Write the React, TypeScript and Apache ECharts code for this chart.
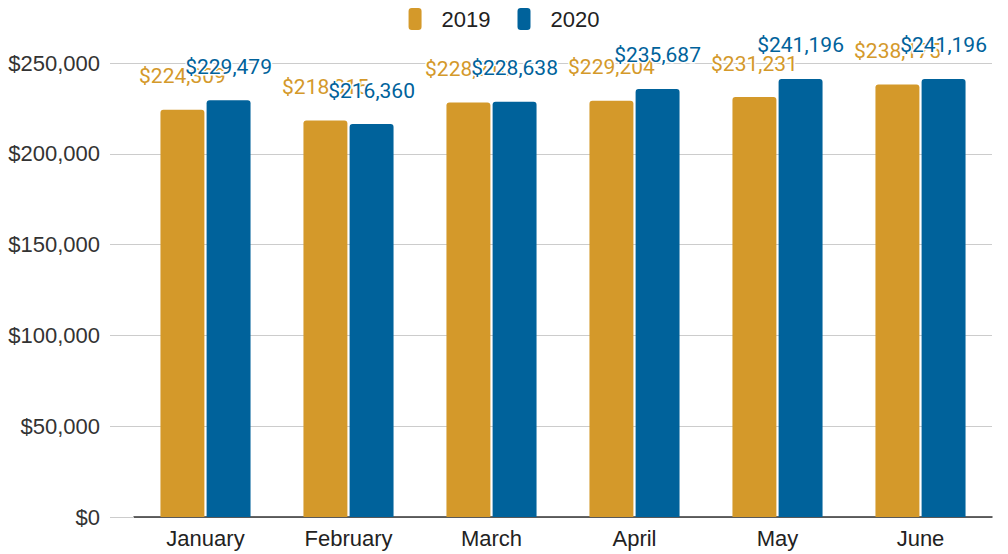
import React, { useEffect, useRef } from "react";
import * as echarts from "echarts";

const months = ["January", "February", "March", "April", "May", "June"];
const sales2019 = [224309, 218315, 228210, 229204, 231231, 238175];
const sales2020 = [229479, 216360, 228638, 235687, 241196, 241196];
const yTicks = [0, 50000, 100000, 150000, 200000, 250000];

const fmt = (v: number) => "$" + v.toLocaleString("en-US");

export default function App() {
  const ref = useRef<HTMLDivElement>(null);
  useEffect(() => {
    const chart = echarts.init(ref.current!, null, { renderer: "svg" });
    const font = "Roboto, Arial, sans-serif";
    const axisFont = "'Liberation Sans', Arial, sans-serif";
    const mkLabel = (color: string) => ({
      show: true,
      position: "top",
      distance: 23,
      fontSize: 21,
      color,
      fontFamily: font,
      textBorderColor: "#fff",
      textBorderWidth: 3,
      formatter: (p: any) => fmt(p.value),
    });
    chart.setOption({
      animation: false,
      textStyle: { fontFamily: font },
      legend: {
        top: 3,
        left: "center",
        itemWidth: 13,
        itemHeight: 22,
        itemGap: 27,
        icon: "roundRect",
        textStyle: {
          fontSize: 22,
          color: "#222",
          fontFamily: axisFont,
          padding: [0, 0, 0, 15],
        },
        data: ["2019", "2020"],
      },
      grid: { left: 134, right: 16, top: 63, bottom: 37, containLabel: false },
      xAxis: {
        type: "category",
        data: months,
        axisTick: { show: false },
        axisLine: { lineStyle: { color: "#333", width: 1.5 } },
        axisLabel: { fontSize: 22, color: "#222", margin: 10, fontFamily: axisFont },
      },
      yAxis: {
        type: "value",
        min: yTicks[0],
        max: yTicks[yTicks.length - 1],
        interval: 50000,
        axisLine: { show: false },
        axisTick: { show: true, length: 24, lineStyle: { color: "#ccc" } },
        splitLine: { lineStyle: { color: "#ccc" } },
        axisLabel: {
          fontSize: 22,
          color: "#333",
          margin: 34,
          fontFamily: axisFont,
          formatter: (v: number) => fmt(v),
        },
      },
      series: [
        {
          name: "2019",
          type: "bar",
          data: sales2019,
          barGap: "5%",
          barCategoryGap: "37%",
          itemStyle: { color: "#D4992A", borderRadius: [3, 3, 0, 0] },
          label: mkLabel("#D4992A"),
        },
        {
          name: "2020",
          type: "bar",
          data: sales2020,
          itemStyle: { color: "#00629B", borderRadius: [3, 3, 0, 0] },
          label: mkLabel("#00629B"),
        },
      ],
    });
    return () => chart.dispose();
  }, []);
  return <div ref={ref} style={{ width: 1008, height: 554, position: "absolute", left: 0, top: 0 }} />;
}
